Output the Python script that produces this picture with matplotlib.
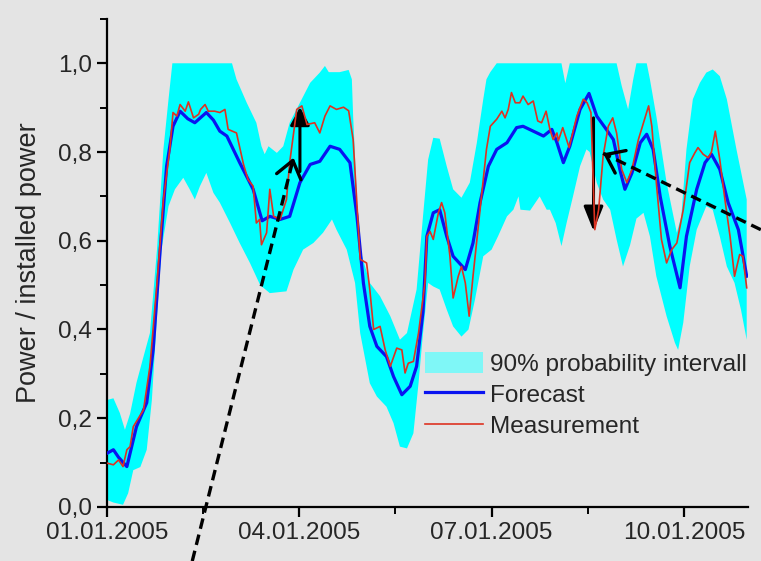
import matplotlib
matplotlib.use("Agg")
import matplotlib.pyplot as plt
import numpy as np
from matplotlib.patches import Patch
from matplotlib.lines import Line2D
from matplotlib.ticker import FixedLocator, MultipleLocator, FuncFormatter

# time axis: days after 01.01.2005 00:00
tick_days = [0, 3, 6, 9]
tick_labels = ["01.01.2005", "04.01.2005", "07.01.2005", "10.01.2005"]
minor_days = [1.5, 4.5, 7.5]

# forecast (blue)
t_fc = [0.00, 0.10, 0.18, 0.31, 0.46, 0.62, 0.72, 0.83, 0.93, 1.03, 1.14, 1.26, 1.37,
        1.55, 1.66, 1.76, 1.87, 2.07, 2.28, 2.42, 2.54, 2.70, 2.85, 3.01, 3.17, 3.32,
        3.48, 3.63, 3.79, 3.90, 4.00, 4.10, 4.21, 4.36, 4.47, 4.60, 4.73, 4.83, 4.93,
        4.99, 5.09, 5.19, 5.30, 5.40, 5.59, 5.71, 5.82, 5.95, 6.08, 6.24, 6.39, 6.49,
        6.65, 6.81, 6.94, 7.02, 7.12, 7.22, 7.38, 7.52, 7.64, 7.79, 7.90, 8.00, 8.08,
        8.19, 8.32, 8.42, 8.52, 8.63, 8.78, 8.94, 9.04, 9.20, 9.33, 9.43, 9.56, 9.69,
        9.85, 9.98]
forecast = [0.121, 0.129, 0.112, 0.091, 0.181, 0.235, 0.354, 0.580, 0.768, 0.858, 0.892,
            0.875, 0.866, 0.889, 0.872, 0.847, 0.836, 0.776, 0.716, 0.645, 0.655, 0.648,
            0.655, 0.731, 0.772, 0.779, 0.813, 0.806, 0.776, 0.655, 0.505, 0.407, 0.362,
            0.339, 0.294, 0.253, 0.272, 0.317, 0.440, 0.610, 0.663, 0.670, 0.610, 0.565,
            0.535, 0.595, 0.686, 0.768, 0.806, 0.821, 0.855, 0.858, 0.847, 0.836, 0.851,
            0.821, 0.776, 0.813, 0.896, 0.932, 0.881, 0.851, 0.828, 0.761, 0.716, 0.753,
            0.821, 0.840, 0.806, 0.700, 0.588, 0.494, 0.610, 0.716, 0.776, 0.795, 0.761,
            0.686, 0.625, 0.520]

# measurement (red)
t_ms = [0.00, 0.10, 0.18, 0.25, 0.31, 0.36, 0.41, 0.57, 0.67, 0.78, 0.88, 0.98, 1.03,
        1.09, 1.14, 1.22, 1.27, 1.35, 1.43, 1.46, 1.53, 1.58, 1.68, 1.76, 1.84, 1.89,
        2.02, 2.13, 2.20, 2.28, 2.33, 2.38, 2.41, 2.49, 2.54, 2.60, 2.70, 2.80, 2.85,
        2.96, 3.04, 3.12, 3.24, 3.32, 3.40, 3.48, 3.58, 3.69, 3.77, 3.84, 3.95, 4.05,
        4.10, 4.16, 4.26, 4.34, 4.42, 4.52, 4.60, 4.65, 4.70, 4.78, 4.86, 4.96, 4.99,
        5.04, 5.09, 5.17, 5.22, 5.27, 5.35, 5.40, 5.48, 5.53, 5.59, 5.65, 5.71, 5.82,
        5.92, 5.98, 6.08, 6.16, 6.21, 6.26, 6.31, 6.37, 6.44, 6.49, 6.57, 6.65, 6.72,
        6.78, 6.85, 6.91, 6.96, 7.02, 7.04, 7.11, 7.21, 7.33, 7.43, 7.49, 7.55, 7.61,
        7.67, 7.74, 7.82, 7.89, 7.95, 8.03, 8.11, 8.19, 8.29, 8.37, 8.45, 8.50, 8.57,
        8.65, 8.73, 8.81, 8.89, 8.99, 9.09, 9.17, 9.22, 9.30, 9.38, 9.43, 9.49, 9.56,
        9.64, 9.72, 9.79, 9.87, 9.92, 9.98]
measurement = [0.099, 0.095, 0.106, 0.091, 0.129, 0.136, 0.181, 0.219, 0.317, 0.505,
               0.693, 0.806, 0.889, 0.881, 0.907, 0.892, 0.913, 0.877, 0.885, 0.896,
               0.907, 0.892, 0.892, 0.889, 0.896, 0.851, 0.843, 0.772, 0.738, 0.723,
               0.640, 0.648, 0.591, 0.618, 0.716, 0.655, 0.648, 0.693, 0.776, 0.896,
               0.904, 0.862, 0.866, 0.843, 0.881, 0.904, 0.896, 0.901, 0.893, 0.828,
               0.558, 0.550, 0.490, 0.400, 0.407, 0.354, 0.317, 0.358, 0.354, 0.302,
               0.324, 0.328, 0.392, 0.505, 0.610, 0.621, 0.603, 0.663, 0.686, 0.663,
               0.565, 0.471, 0.520, 0.542, 0.505, 0.430, 0.520, 0.670, 0.806, 0.858,
               0.874, 0.892, 0.877, 0.896, 0.934, 0.911, 0.911, 0.926, 0.907, 0.915,
               0.870, 0.866, 0.892, 0.851, 0.828, 0.843, 0.825, 0.855, 0.810, 0.881,
               0.919, 0.911, 0.889, 0.625, 0.670, 0.791, 0.858, 0.877, 0.843, 0.761,
               0.731, 0.761, 0.828, 0.866, 0.904, 0.858, 0.731, 0.603, 0.550, 0.580,
               0.595, 0.670, 0.776, 0.798, 0.810, 0.795, 0.787, 0.800, 0.847, 0.783,
               0.693, 0.610, 0.520, 0.569, 0.565, 0.494]

# 90% probability interval, upper and lower bounds
t_up = [0.00, 0.10, 0.20, 0.28, 0.36, 0.46, 0.57, 0.67, 0.78, 0.88, 0.96, 1.02, 1.95,
        2.02, 2.18, 2.33, 2.41, 2.46, 2.52, 2.65, 2.75, 2.85, 3.01, 3.17, 3.32, 3.40,
        3.46, 3.63, 3.77, 3.82, 3.84, 3.90, 3.95, 4.10, 4.26, 4.42, 4.57, 4.68, 4.83,
        4.93, 5.01, 5.09, 5.19, 5.30, 5.40, 5.53, 5.66, 5.77, 5.87, 5.92, 5.98, 6.08,
        7.09, 7.15, 7.22, 7.95, 8.03, 8.13, 8.21, 8.26, 8.42, 8.47, 8.57, 8.73, 8.89,
        8.96, 9.04, 9.14, 9.25, 9.35, 9.45, 9.56, 9.67, 9.82, 9.98]
upper = [0.241, 0.245, 0.212, 0.174, 0.210, 0.280, 0.339, 0.392, 0.580, 0.806, 0.919,
         1.000, 1.000, 0.964, 0.911, 0.866, 0.813, 0.795, 0.813, 0.798, 0.813, 0.866,
         0.911, 0.956, 0.979, 0.994, 0.980, 0.980, 0.985, 0.964, 0.881, 0.693, 0.580,
         0.505, 0.475, 0.430, 0.377, 0.392, 0.490, 0.655, 0.783, 0.832, 0.830, 0.768,
         0.716, 0.697, 0.731, 0.821, 0.919, 0.964, 0.980, 1.000, 1.000, 0.955, 1.000,
         1.000, 0.949, 0.896, 0.964, 1.000, 1.000, 0.964, 0.881, 0.731, 0.618, 0.655,
         0.806, 0.919, 0.956, 0.979, 0.986, 0.971, 0.919, 0.806, 0.693]
t_lo = [0.00, 0.10, 0.25, 0.33, 0.41, 0.52, 0.62, 0.70, 0.78, 0.85, 0.96, 1.06, 1.19,
        1.29, 1.37, 1.45, 1.55, 1.66, 1.76, 1.92, 2.07, 2.23, 2.39, 2.54, 2.80, 2.91,
        3.06, 3.22, 3.37, 3.51, 3.58, 3.74, 3.87, 3.95, 4.10, 4.21, 4.36, 4.47, 4.57,
        4.68, 4.78, 4.86, 4.93, 5.01, 5.09, 5.19, 5.30, 5.40, 5.53, 5.64, 5.74, 5.87,
        6.00, 6.10, 6.24, 6.34, 6.42, 6.45, 6.60, 6.75, 6.86, 6.91, 7.00, 7.09, 7.17,
        7.27, 7.38, 7.48, 7.53, 7.64, 7.74, 7.85, 7.95, 8.05, 8.16, 8.26, 8.37, 8.47,
        8.57, 8.73, 8.86, 8.91, 8.99, 9.09, 9.20, 9.35, 9.45, 9.56, 9.67, 9.79, 9.89,
        9.98]
lower = [0.016, 0.010, 0.005, 0.031, 0.083, 0.090, 0.129, 0.241, 0.430, 0.580, 0.678,
         0.716, 0.742, 0.716, 0.693, 0.723, 0.753, 0.708, 0.686, 0.640, 0.595, 0.550,
         0.500, 0.482, 0.486, 0.535, 0.580, 0.595, 0.618, 0.648, 0.625, 0.580, 0.505,
         0.392, 0.279, 0.249, 0.226, 0.189, 0.136, 0.132, 0.166, 0.279, 0.392, 0.505,
         0.497, 0.490, 0.445, 0.407, 0.384, 0.400, 0.467, 0.565, 0.580, 0.610, 0.655,
         0.670, 0.700, 0.670, 0.668, 0.700, 0.670, 0.670, 0.640, 0.588, 0.640, 0.700,
         0.768, 0.806, 0.800, 0.731, 0.693, 0.670, 0.603, 0.542, 0.590, 0.650, 0.663,
         0.610, 0.520, 0.430, 0.370, 0.354, 0.415, 0.542, 0.625, 0.678, 0.670, 0.610,
         0.542, 0.505, 0.445, 0.377]

BG = "#e4e4e4"
TXT = "#262626"

plt.rcParams["font.family"] = ["Liberation Sans", "DejaVu Sans"]
plt.rcParams["axes.linewidth"] = 1.6

fig = plt.figure(figsize=(7.61, 5.61), dpi=100, facecolor=BG)
ax = fig.add_axes([0.1406, 0.0963, 0.8423, 0.870], facecolor=BG)

# band as a closed polygon: upper edge forward, lower edge backward
ax.fill(np.concatenate([t_up, t_lo[::-1]]), np.concatenate([upper, lower[::-1]]),
        color="#00ffff", lw=0, zorder=1)
ax.plot(t_fc, forecast, color="#0a14f0", lw=2.3, zorder=3)
ax.plot(t_ms, measurement, color="#dd3322", lw=1.2, zorder=4)

ax.set_xlim(0, 10)
ax.set_ylim(0, 1.1)
for s in ("top", "right"):
    ax.spines[s].set_visible(False)

ax.xaxis.set_major_locator(FixedLocator(tick_days))
ax.set_xticklabels(tick_labels)
ax.xaxis.set_minor_locator(FixedLocator(minor_days))
ax.yaxis.set_major_locator(MultipleLocator(0.2))
ax.yaxis.set_minor_locator(MultipleLocator(0.1))
ax.yaxis.set_major_formatter(FuncFormatter(lambda v, p: f"{v:.1f}".replace(".", ",")))
ax.tick_params(which="major", length=7, width=1.6, labelsize=17.6, colors="black",
               labelcolor=TXT, pad=4)
ax.tick_params(which="minor", length=5, width=1.4, colors="black")

ax.set_ylabel("Power / installed power", fontsize=19.5, color=TXT)
ax.yaxis.set_label_coords(-0.101, 0.5)

handles = [Patch(facecolor="#7ff7f7", edgecolor="none"),
           Line2D([], [], color="#0a14f0", lw=2.3),
           Line2D([], [], color="#dd3322", lw=1.2)]
labels = ["90% probability intervall", "Forecast", "Measurement"]
ax.legend(handles, labels, loc="upper left", bbox_to_anchor=(0.496, 0.318),
          frameon=False, fontsize=17.6, handlelength=2.37, handleheight=0.94,
          handletextpad=0.29, labelspacing=0.3, borderpad=0, borderaxespad=0,
          labelcolor=TXT)

# annotations: solid arrows mark the gap, dashed pointers come from outside
ax.annotate("", xy=(3.01, 0.901), xytext=(3.01, 0.756),
            arrowprops=dict(arrowstyle="-|>,head_length=0.55,head_width=0.3",
                            color="black", lw=2.2, mutation_scale=20, shrinkA=0, shrinkB=0))
ax.annotate("", xy=(7.59, 0.622), xytext=(7.59, 0.877),
            arrowprops=dict(arrowstyle="-|>,head_length=0.75,head_width=0.3",
                            color="black", lw=2.2, mutation_scale=20, shrinkA=0, shrinkB=0))

pointers = [((1.33, -0.122), (2.91, 0.787)), ((10.2, 0.625), (7.74, 0.797))]
for start, tip in pointers:
    ax.plot([start[0], tip[0]], [start[1], tip[1]], color="black", lw=2.4,
            dashes=(3.2, 1.8), clip_on=False, zorder=6)
    dx, dy = tip[0] - start[0], tip[1] - start[1]
    ax.annotate("", xy=tip, xytext=(tip[0] - 0.02 * dx, tip[1] - 0.02 * dy),
                annotation_clip=False,
                arrowprops=dict(arrowstyle="->,head_length=0.6,head_width=0.45",
                                color="black", lw=2.4, mutation_scale=20,
                                shrinkA=0, shrinkB=0), zorder=6)

fig.savefig("out.png", dpi=100, facecolor=BG)
